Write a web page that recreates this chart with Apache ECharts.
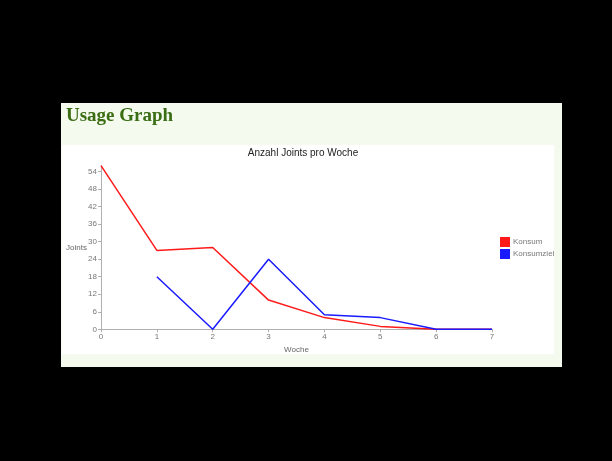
<!DOCTYPE html>
<html>
<head>
<meta charset="utf-8">
<script src="https://cdn.jsdelivr.net/npm/echarts@6/dist/echarts.min.js"></script>
<style>
  html, body { margin: 0; padding: 0; background: #000; }
  #chart { width: 612px; height: 461px; }
</style>
</head>
<body>
<div id="chart"></div>
<script>
// Weeks on the x axis
const weeks = [0, 1, 2, 3, 4, 5, 6, 7];
// Joints smoked per week
const konsum = [56, 27, 28, 10, 4, 1, 0, 0];
// Target per week (no target for week 0)
const konsumziel = [null, 18, 0, 24, 5, 4, 0, 0];
// Tick values shown on the y axis
const yTicks = [0, 6, 12, 18, 24, 30, 36, 42, 48, 54];

const pairs = (vals) => weeks.map((w, i) => [w, vals[i]]);

const chart = echarts.init(document.getElementById('chart'), null, { renderer: 'canvas' });

chart.setOption({
  backgroundColor: '#000',
  animation: false,
  graphic: [
    { type: 'rect', z: -10, shape: { x: 61, y: 103, width: 501, height: 264 }, style: { fill: '#f5faef' } },
    { type: 'rect', z: -9, shape: { x: 62, y: 145, width: 492, height: 209 }, style: { fill: '#ffffff' } },
    { type: 'text', z: 10, left: 66, top: 107,
      style: { text: 'Usage Graph', font: 'bold 19px "Liberation Serif", serif', fill: '#3b6e14' } }
  ],
  title: {
    text: 'Anzahl Joints pro Woche',
    left: 298, top: 143, textAlign: 'center',
    textStyle: { fontFamily: 'Liberation Sans, Arial, sans-serif', fontSize: 10, fontWeight: 'normal', color: '#222' }
  },
  legend: {
    left: 495, top: 232, orient: 'vertical',
    icon: 'rect', itemWidth: 10, itemHeight: 10, itemGap: 2,
    textStyle: { fontFamily: 'Liberation Sans, Arial, sans-serif', fontSize: 8, color: '#777', padding: [0, 0, 0, -2] },
    data: ['Konsum', 'Konsumziel']
  },
  grid: { left: 101, right: 120, top: 165.7, bottom: 131.7, containLabel: false },
  xAxis: {
    type: 'value', min: 0, max: 7, interval: 1,
    name: 'Woche', nameLocation: 'middle', nameGap: 16,
    nameTextStyle: { fontFamily: 'Liberation Sans, Arial, sans-serif', fontSize: 8, color: '#666' },
    axisLine: { lineStyle: { color: '#b0b0b0', width: 1 } },
    axisTick: { show: true, length: 3, lineStyle: { color: '#b0b0b0' } },
    axisLabel: { fontFamily: 'Liberation Sans, Arial, sans-serif', fontSize: 8, color: '#777', margin: 3 },
    splitLine: { show: false }
  },
  yAxis: {
    type: 'value', min: 0, max: 56,
    name: 'Joints', nameLocation: 'middle', nameRotate: 0, nameGap: 14,
    nameMoveOverlap: false,
    nameTextStyle: { fontFamily: 'Liberation Sans, Arial, sans-serif', fontSize: 8, color: '#666' },
    axisLine: { show: true, lineStyle: { color: '#b0b0b0', width: 1 } },
    axisTick: { show: true, length: 3, customValues: yTicks, lineStyle: { color: '#b0b0b0' } },
    axisLabel: { customValues: yTicks, fontFamily: 'Liberation Sans, Arial, sans-serif', fontSize: 8, color: '#777', margin: 4 },
    splitLine: { show: false }
  },
  series: [
    {
      name: 'Konsum', type: 'line', data: pairs(konsum),
      symbol: 'none', color: '#ff1a1a', lineStyle: { width: 1.5, color: '#ff1a1a' }, z: 2
    },
    {
      name: 'Konsumziel', type: 'line', data: pairs(konsumziel),
      symbol: 'none', color: '#1a1aff', lineStyle: { width: 1.5, color: '#1a1aff' }, z: 3,
      connectNulls: false
    }
  ]
});
</script>
</body>
</html>
